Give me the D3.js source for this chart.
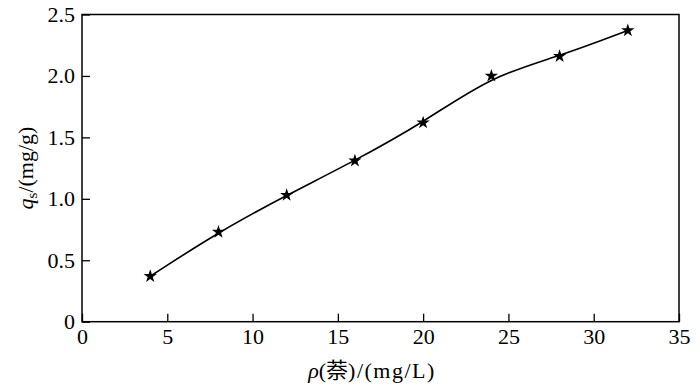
<!DOCTYPE html>
<html><head><meta charset="utf-8">
<script src="https://cdn.jsdelivr.net/npm/d3@7"></script>
<style>
html,body{margin:0;padding:0;background:#fff;}
svg text{font-family:"Liberation Serif","DejaVu Serif",serif !important;fill:#000;}
svg text .cjk{font-family:"Noto Sans CJK SC",sans-serif !important;}
</style></head>
<body><svg id="c" width="700" height="389"></svg>
<script>
const xValues = [4, 8, 12, 16, 20, 24, 28, 32];
const yValues = [0.37, 0.73, 1.03, 1.31, 1.62, 2.00, 2.16, 2.37];
const xTicks = [0, 5, 10, 15, 20, 25, 30, 35];
const yTicks = [0, 0.5, 1.0, 1.5, 2.0, 2.5];
const yTickLabels = ["0", "0.5", "1.0", "1.5", "2.0", "2.5"];

const svg = d3.select("#c");
const L = 82, R = 679, T = 14.5, B = 321.7;
const x = d3.scaleLinear().domain([0, 35]).range([L, R]);
const y = d3.scaleLinear().domain([0, 2.5]).range([B, T]);

svg.append("rect").attr("x", L).attr("y", T).attr("width", R - L).attr("height", B - T)
  .attr("fill", "none").attr("stroke", "#000").attr("stroke-width", 1.5);

const xAxis = svg.append("g").attr("transform", `translate(0,${B})`)
  .call(d3.axisBottom(x).tickValues(xTicks).tickSize(-8).tickPadding(5).tickFormat(d3.format("d")));
const yAxis = svg.append("g").attr("transform", `translate(${L},0)`)
  .call(d3.axisLeft(y).tickValues(yTicks).tickSize(-8).tickPadding(7).tickFormat((d, i) => yTickLabels[i]));
[xAxis, yAxis].forEach(g => {
  g.attr("font-family", null).attr("font-size", null);
  g.select(".domain").remove();
  g.selectAll(".tick line").attr("stroke", "#000").attr("stroke-width", 1.3);
  g.selectAll(".tick text").style("font-size", "22px").attr("fill", "#000");
});
xAxis.selectAll(".tick text").attr("dy", "0.8em");

const pts = xValues.map((v, i) => [v, yValues[i]]);
const line = d3.line().x(d => x(d[0])).y(d => y(d[1])).curve(d3.curveBasis);
svg.append("path").attr("d", line(pts)).attr("fill", "none").attr("stroke", "#000").attr("stroke-width", 1.6);

svg.selectAll(".pt").data(pts).enter().append("path")
  .attr("transform", d => `translate(${x(d[0])},${y(d[1])})`)
  .attr("d", d3.symbol().type(d3.symbolStar).size(55)).attr("fill", "#000");

const xl = svg.append("text").attr("x", 372).attr("y", 378).attr("text-anchor", "middle").style("font-size", "22px");
xl.append("tspan").style("font-style", "italic").text("ρ");
xl.append("tspan").text("(");
xl.append("tspan").attr("class", "cjk").style("font-size", "22px").text("萘");
xl.append("tspan").style("letter-spacing", "1.5px").text(")/(mg/L)");

const yl = svg.append("text").attr("transform", "translate(33,168) rotate(-90)").attr("text-anchor", "middle").style("font-size", "22px");
yl.append("tspan").style("font-style", "italic").text("q");
yl.append("tspan").attr("dy", 4).style("font-size", "15px").text("s");
yl.append("tspan").attr("dy", -4).text("/(mg/g)");
</script></body></html>
